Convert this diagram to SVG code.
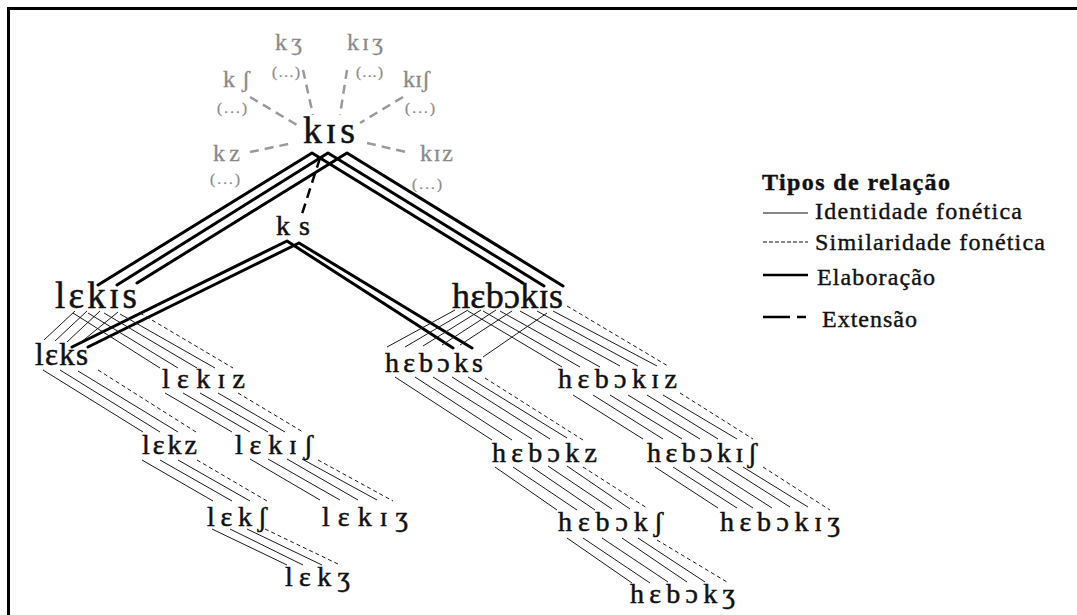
<svg xmlns="http://www.w3.org/2000/svg" width="1077" height="615" viewBox="0 0 1077 615">
<style>
.w{font-family:"Liberation Serif","DejaVu Serif",serif;fill:#111;stroke:#111;stroke-width:0.5}
.g{font-family:"Liberation Serif","DejaVu Serif",serif;fill:#8a8a8a;stroke:#8a8a8a;stroke-width:0.3}
.lg{font-family:"Liberation Serif","DejaVu Serif",serif;fill:#111;font-size:24px;stroke:#111;stroke-width:0.4}
.id{stroke:#1a1a1a;stroke-width:1;fill:none}
.sim{stroke:#1a1a1a;stroke-width:1;stroke-dasharray:4 3;fill:none}
.el{stroke:#000;stroke-width:3;fill:none;stroke-linejoin:round;stroke-linecap:round}
.ext{stroke:#000;stroke-width:2.5;stroke-dasharray:10 6;fill:none}
.extg{stroke:#9a9a9a;stroke-width:2.5;stroke-dasharray:9 6;fill:none}
</style>
<rect width="1077" height="615" fill="#fff"/>
<path d="M8.5,615 V8.5 H1077" fill="none" stroke="#000" stroke-width="3"/>

<g id="connectors">
  <g id="elaboration">
    <polyline class="el" points="98,285 312,153 523,283"/>
    <polyline class="el" points="117,285 328,153 544,286"/>
    <polyline class="el" points="137,283 347,153 563,286"/>
    <polyline class="el" points="72,347 287,241 453,348"/>
    <polyline class="el" points="88,347 299,243 472,348"/>
  </g>
  <g id="extension">
    <line class="ext" x1="320" y1="158" x2="302" y2="214"/>
    <line class="extg" x1="250" y1="97" x2="297" y2="125"/>
    <line class="extg" x1="303" y1="70" x2="313" y2="115"/>
    <line class="extg" x1="347" y1="70" x2="340" y2="115"/>
    <line class="extg" x1="403" y1="97" x2="360" y2="123"/>
    <line class="extg" x1="250" y1="152" x2="293" y2="143"/>
    <line class="extg" x1="367" y1="143" x2="410" y2="153"/>
  </g>
  <g id="identity">
    <line class="id" x1="75" y1="311" x2="44" y2="340"/>
    <line class="id" x1="87" y1="311" x2="55" y2="341"/>
    <line class="id" x1="100" y1="311" x2="67" y2="342"/>
    <line class="id" x1="118" y1="312" x2="80" y2="343"/>
    <line class="id" x1="73" y1="313" x2="160" y2="368"/>
    <line class="id" x1="88" y1="313" x2="178" y2="368"/>
    <line class="id" x1="104" y1="313" x2="197" y2="368"/>
    <line class="id" x1="120" y1="314" x2="215" y2="368"/>
    <line class="sim" x1="140" y1="313" x2="233" y2="368"/>
    <line class="id" x1="43" y1="370" x2="143" y2="432"/>
    <line class="id" x1="60" y1="370" x2="160" y2="432"/>
    <line class="id" x1="78" y1="371" x2="178" y2="432"/>
    <line class="sim" x1="98" y1="370" x2="196" y2="432"/>
    <line class="id" x1="165" y1="393" x2="232" y2="432"/>
    <line class="id" x1="183" y1="393" x2="250" y2="432"/>
    <line class="id" x1="200" y1="393" x2="268" y2="432"/>
    <line class="id" x1="218" y1="393" x2="285" y2="432"/>
    <line class="sim" x1="238" y1="393" x2="303" y2="432"/>
    <line class="id" x1="142" y1="460" x2="213" y2="501"/>
    <line class="id" x1="160" y1="460" x2="232" y2="501"/>
    <line class="id" x1="178" y1="460" x2="250" y2="501"/>
    <line class="sim" x1="197" y1="460" x2="267" y2="501"/>
    <line class="id" x1="250" y1="459" x2="320" y2="500"/>
    <line class="id" x1="268" y1="459" x2="340" y2="500"/>
    <line class="id" x1="287" y1="459" x2="358" y2="500"/>
    <line class="id" x1="302" y1="459" x2="377" y2="500"/>
    <line class="sim" x1="318" y1="460" x2="393" y2="501"/>
    <line class="id" x1="212" y1="529" x2="287" y2="565"/>
    <line class="id" x1="230" y1="529" x2="303" y2="565"/>
    <line class="id" x1="247" y1="529" x2="322" y2="565"/>
    <line class="sim" x1="265" y1="529" x2="340" y2="565"/>
    <line class="id" x1="455" y1="310" x2="387" y2="347"/>
    <line class="id" x1="468" y1="310" x2="405" y2="347"/>
    <line class="id" x1="481" y1="310" x2="423" y2="346"/>
    <line class="id" x1="496" y1="310" x2="442" y2="345"/>
    <line class="id" x1="512" y1="311" x2="460" y2="345"/>
    <line class="id" x1="547" y1="313" x2="483" y2="357"/>
    <line class="id" x1="468" y1="311" x2="562" y2="367"/>
    <line class="id" x1="483" y1="311" x2="580" y2="367"/>
    <line class="id" x1="500" y1="311" x2="600" y2="367"/>
    <line class="id" x1="520" y1="311" x2="620" y2="366"/>
    <line class="id" x1="537" y1="311" x2="638" y2="366"/>
    <line class="id" x1="553" y1="311" x2="657" y2="366"/>
    <line class="sim" x1="567" y1="306" x2="668" y2="366"/>
    <line class="id" x1="395" y1="377" x2="492" y2="440"/>
    <line class="id" x1="415" y1="377" x2="512" y2="440"/>
    <line class="id" x1="433" y1="377" x2="532" y2="439"/>
    <line class="id" x1="452" y1="377" x2="550" y2="439"/>
    <line class="id" x1="468" y1="377" x2="567" y2="438"/>
    <line class="sim" x1="485" y1="378" x2="583" y2="440"/>
    <line class="id" x1="573" y1="395" x2="643" y2="439"/>
    <line class="id" x1="593" y1="395" x2="663" y2="439"/>
    <line class="id" x1="610" y1="395" x2="682" y2="439"/>
    <line class="id" x1="628" y1="395" x2="700" y2="439"/>
    <line class="id" x1="647" y1="395" x2="718" y2="439"/>
    <line class="id" x1="663" y1="395" x2="737" y2="439"/>
    <line class="sim" x1="680" y1="393" x2="753" y2="439"/>
    <line class="id" x1="655" y1="467" x2="718" y2="508"/>
    <line class="id" x1="673" y1="467" x2="737" y2="508"/>
    <line class="id" x1="690" y1="467" x2="753" y2="508"/>
    <line class="id" x1="708" y1="467" x2="772" y2="508"/>
    <line class="id" x1="727" y1="467" x2="790" y2="507"/>
    <line class="id" x1="743" y1="467" x2="808" y2="507"/>
    <line class="sim" x1="763" y1="467" x2="830" y2="510"/>
    <line class="id" x1="495" y1="467" x2="557" y2="510"/>
    <line class="id" x1="513" y1="467" x2="577" y2="510"/>
    <line class="id" x1="532" y1="467" x2="595" y2="510"/>
    <line class="id" x1="548" y1="466" x2="612" y2="509"/>
    <line class="id" x1="567" y1="466" x2="630" y2="509"/>
    <line class="sim" x1="583" y1="467" x2="647" y2="508"/>
    <line class="id" x1="567" y1="538" x2="632" y2="583"/>
    <line class="id" x1="583" y1="538" x2="650" y2="583"/>
    <line class="id" x1="602" y1="538" x2="668" y2="582"/>
    <line class="id" x1="622" y1="538" x2="687" y2="582"/>
    <line class="id" x1="638" y1="538" x2="705" y2="582"/>
    <line class="sim" x1="657" y1="540" x2="727" y2="582"/>
  </g>
</g>

<g id="node-kis"><text class="w" x="303" y="143" font-size="38" textLength="52" lengthAdjust="spacing">kɪs</text></g>
<g id="node-ks"><text class="w" x="276" y="235" font-size="28" textLength="34" lengthAdjust="spacing">k s</text></g>
<g id="node-lekis"><text class="w" x="55" y="308" font-size="37" textLength="82" lengthAdjust="spacing">lɛkɪs</text></g>
<g id="node-hebokis"><text class="w" x="452" y="308" font-size="36" textLength="111" lengthAdjust="spacing">hɛbɔkɪs</text></g>
<g id="node-leks"><text class="w" x="35" y="365" font-size="31" textLength="53" lengthAdjust="spacing">lɛks</text></g>
<g id="node-lekiz"><text class="w" x="162" y="388" font-size="28" textLength="83" lengthAdjust="spacing">lɛkɪz</text></g>
<g id="node-lekz"><text class="w" x="142" y="454" font-size="28" textLength="55" lengthAdjust="spacing">lɛkz</text></g>
<g id="node-lekish"><text class="w" x="235" y="454" font-size="28" textLength="78" lengthAdjust="spacing">lɛkɪʃ</text></g>
<g id="node-leksh"><text class="w" x="207" y="526" font-size="28" textLength="60" lengthAdjust="spacing">lɛkʃ</text></g>
<g id="node-lekizh"><text class="w" x="322" y="526" font-size="28" textLength="86" lengthAdjust="spacing">lɛkɪʒ</text></g>
<g id="node-lekzh"><text class="w" x="285" y="586" font-size="28" textLength="65" lengthAdjust="spacing">lɛkʒ</text></g>
<g id="node-heboks"><text class="w" x="385" y="372" font-size="28" textLength="98" lengthAdjust="spacing">hɛbɔks</text></g>
<g id="node-hebokiz"><text class="w" x="558" y="388" font-size="28" textLength="119" lengthAdjust="spacing">hɛbɔkɪz</text></g>
<g id="node-hebokz"><text class="w" x="492" y="462" font-size="28" textLength="105" lengthAdjust="spacing">hɛbɔkz</text></g>
<g id="node-hebokish"><text class="w" x="647" y="462" font-size="28" textLength="110" lengthAdjust="spacing">hɛbɔkɪʃ</text></g>
<g id="node-heboksh"><text class="w" x="558" y="531" font-size="28" textLength="105" lengthAdjust="spacing">hɛbɔkʃ</text></g>
<g id="node-hebokizh"><text class="w" x="720" y="531" font-size="28" textLength="120" lengthAdjust="spacing">hɛbɔkɪʒ</text></g>
<g id="node-hebokzh"><text class="w" x="630" y="603" font-size="28" textLength="105" lengthAdjust="spacing">hɛbɔkʒ</text></g>

<g id="node-kzh"><text class="g" x="275" y="50" font-size="24" textLength="27" lengthAdjust="spacing">kʒ</text><text class="g" x="272" y="77" font-size="15" textLength="28" lengthAdjust="spacing">(...)</text></g>
<g id="node-kizh"><text class="g" x="347" y="50" font-size="24" textLength="36" lengthAdjust="spacing">kɪʒ</text><text class="g" x="356" y="77" font-size="15" textLength="27" lengthAdjust="spacing">(...)</text></g>
<g id="node-ksh"><text class="g" x="223" y="87" font-size="24" textLength="27" lengthAdjust="spacing">kʃ</text><text class="g" x="217" y="113" font-size="15" textLength="30" lengthAdjust="spacing">(...)</text></g>
<g id="node-kish"><text class="g" x="403" y="87" font-size="24" textLength="27" lengthAdjust="spacing">kɪʃ</text><text class="g" x="405" y="113" font-size="15" textLength="30" lengthAdjust="spacing">(...)</text></g>
<g id="node-kz"><text class="g" x="213" y="161" font-size="24" textLength="27" lengthAdjust="spacing">kz</text><text class="g" x="210" y="184" font-size="15" textLength="30" lengthAdjust="spacing">(...)</text></g>
<g id="node-kiz"><text class="g" x="420" y="161" font-size="24" textLength="33" lengthAdjust="spacing">kɪz</text><text class="g" x="412" y="189" font-size="15" textLength="30" lengthAdjust="spacing">(...)</text></g>

<g id="legend">
  <text class="lg" x="762" y="190" font-weight="bold" textLength="188" lengthAdjust="spacing">Tipos de relação</text>
  <line x1="763" y1="213" x2="808" y2="213" stroke="#111" stroke-width="1"/>
  <text class="lg" x="815" y="219" textLength="207" lengthAdjust="spacing">Identidade fonética</text>
  <line x1="763" y1="242" x2="808" y2="242" stroke="#111" stroke-width="1" stroke-dasharray="4 2"/>
  <text class="lg" x="815" y="250" textLength="230" lengthAdjust="spacing">Similaridade fonética</text>
  <line x1="763" y1="275" x2="808" y2="275" stroke="#000" stroke-width="2.5"/>
  <text class="lg" x="817" y="285" textLength="118" lengthAdjust="spacing">Elaboração</text>
  <line x1="763" y1="317" x2="790" y2="317" stroke="#000" stroke-width="2.5"/>
  <line x1="797" y1="317" x2="806" y2="317" stroke="#000" stroke-width="2.5"/>
  <text class="lg" x="822" y="327" textLength="95" lengthAdjust="spacing">Extensão</text>
</g>
</svg>
